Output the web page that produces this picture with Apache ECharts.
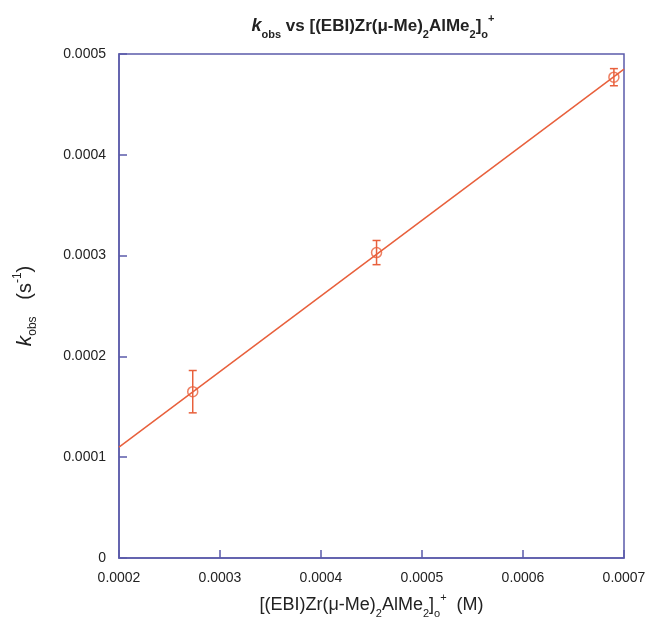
<!DOCTYPE html>
<html>
<head>
<meta charset="utf-8">
<script src="https://cdn.jsdelivr.net/npm/echarts@6/dist/echarts.min.js"></script>
<style>
  html, body { margin: 0; padding: 0; background: #fff; }
  #chart { width: 650px; height: 623px; }
</style>
</head>
<body>
<div id="chart"></div>
<script>
// measured points: concentration (M) vs k_obs (s^-1)
const conc = [0.000273, 0.000455, 0.00069]
const kobs = [0.000165, 0.000303, 0.000477]
const kerr = [0.000021, 0.000012, 0.0000085]
// fitted line ends
const fitX = [0.0002, 0.0007]
const fitY = [0.00011, 0.000485]
const xTicks = ['0.0002', '0.0003', '0.0004', '0.0005', '0.0006', '0.0007']
const yTicks = ['0', '0.0001', '0.0002', '0.0003', '0.0004', '0.0005']

const red = '#e8603c'
const axisBlue = '#5b5baa'
const ink = '#222'
const font = 'Liberation Sans, Arial, Helvetica, sans-serif'

const chart = echarts.init(document.getElementById('chart'))

const points = conc.map((x, i) => [x, kobs[i]])
const bars = conc.map((x, i) => [x, kobs[i] - kerr[i], kobs[i] + kerr[i]])
const fit = fitX.map((x, i) => [x, fitY[i]])

// rich text styles for names with sub/superscripts
function richSet (size, bold) {
  const w = bold ? 'bold' : 'normal'
  const small = Math.round(size * 0.62)
  const lh = 27
  return {
    t: { fontSize: size, fontWeight: w, color: ink, fontFamily: font, lineHeight: lh, verticalAlign: 'middle' },
    k: { fontSize: size + 1, fontWeight: w, fontStyle: 'italic', color: ink, fontFamily: font, lineHeight: lh, verticalAlign: 'middle' },
    sub: { fontSize: small, fontWeight: w, color: ink, fontFamily: font, lineHeight: lh, verticalAlign: 'bottom' },
    sup: { fontSize: small, fontWeight: w, color: ink, fontFamily: font, lineHeight: lh, verticalAlign: 'top' }
  }
}

const option = {
  backgroundColor: '#fff',
  animation: false,
  textStyle: { fontFamily: font },
  title: {
    text: '{k|k}{sub|obs}{t| vs [(EBI)Zr(μ-Me)}{sub|2}{t|AlMe}{sub|2}{t|]}{sub|o}{sup|+}',
    left: 368,
    textAlign: 'center',
    top: 8,
    textStyle: { rich: richSet(17, true) }
  },
  grid: {
    left: 119,
    right: 26,
    top: 54,
    bottom: 65,
    outerBoundsMode: 'none',
    show: true,
    borderColor: axisBlue,
    borderWidth: 1.5,
    backgroundColor: '#fff'
  },
  xAxis: {
    type: 'value',
    min: 0.0002,
    max: 0.0007,
    interval: 0.0001,
    name: '{t|[(EBI)Zr(μ-Me)}{sub|2}{t|AlMe}{sub|2}{t|]}{sub|o}{sup|+}{t|  (M)}',
    nameLocation: 'middle',
    nameGap: 34,
    nameTextStyle: { rich: richSet(18, false) },
    axisLine: { show: true, lineStyle: { color: axisBlue, width: 1.5 } },
    axisTick: { show: true, inside: true, length: 8, lineStyle: { color: axisBlue, width: 1.5 } },
    axisLabel: {
      color: ink,
      fontSize: 14,
      margin: 13,
      formatter: (v) => xTicks[Math.round((v - 0.0002) / 0.0001)]
    },
    splitLine: { show: false }
  },
  yAxis: {
    type: 'value',
    min: 0,
    max: 0.0005,
    interval: 0.0001,
    name: '{k|k}{sub|obs}{t|   (s}{sup|-1}{t|)}',
    nameLocation: 'middle',
    nameRotate: 90,
    nameGap: 80,
    nameTextStyle: { rich: richSet(20, false) },
    axisLine: { show: true, lineStyle: { color: axisBlue, width: 1.5 } },
    axisTick: { show: true, inside: true, length: 8, lineStyle: { color: axisBlue, width: 1.5 } },
    axisLabel: {
      color: ink,
      fontSize: 14,
      margin: 13,
      formatter: (v) => yTicks[Math.round(v / 0.0001)]
    },
    splitLine: { show: false }
  },
  series: [
    {
      name: 'fit',
      type: 'line',
      data: fit,
      symbol: 'none',
      lineStyle: { color: red, width: 1.5 },
      z: 3
    },
    {
      name: 'error',
      type: 'custom',
      data: bars,
      renderItem: function (params, api) {
        const x = api.value(0)
        const lo = api.coord([x, api.value(1)])
        const hi = api.coord([x, api.value(2)])
        const cap = 4
        const style = { stroke: red, lineWidth: 1.5 }
        return {
          type: 'group',
          children: [
            { type: 'line', shape: { x1: lo[0], y1: lo[1], x2: hi[0], y2: hi[1] }, style: style },
            { type: 'line', shape: { x1: lo[0] - cap, y1: lo[1], x2: lo[0] + cap, y2: lo[1] }, style: style },
            { type: 'line', shape: { x1: hi[0] - cap, y1: hi[1], x2: hi[0] + cap, y2: hi[1] }, style: style }
          ]
        }
      },
      z: 4
    },
    {
      name: 'kobs',
      type: 'scatter',
      data: points,
      symbol: 'circle',
      symbolSize: 10,
      itemStyle: { color: 'rgba(255,255,255,0)', borderColor: red, borderWidth: 1.5 },
      z: 5
    }
  ]
}

chart.setOption(option)
</script>
</body>
</html>
